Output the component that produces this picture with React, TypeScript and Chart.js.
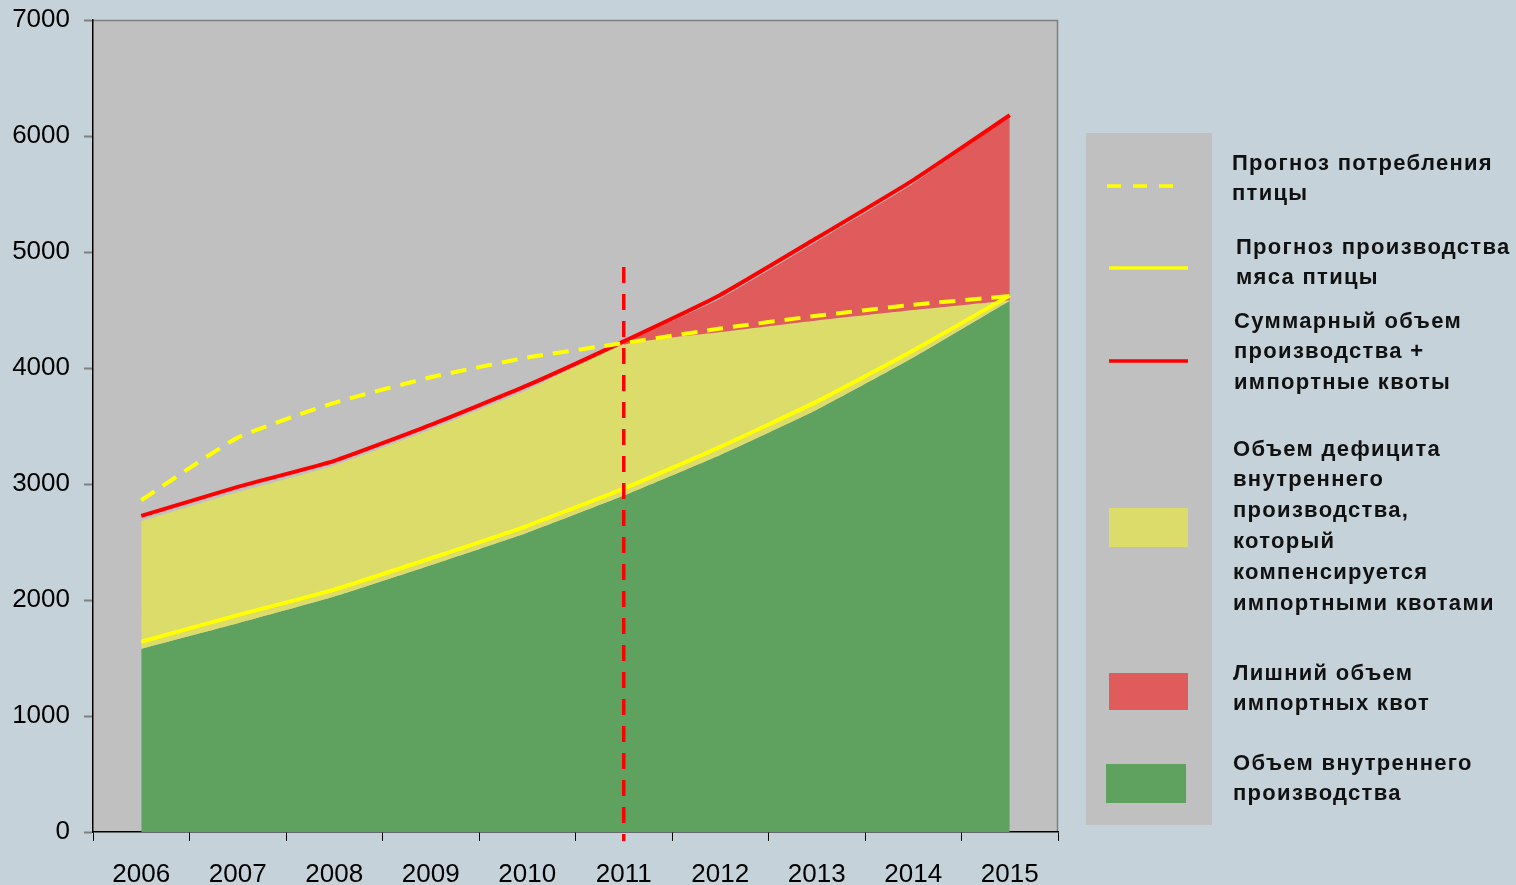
import React, { useEffect, useRef } from "react";
import { Chart, registerables } from "chart.js";

Chart.register(...registerables);

const years = ["2006", "2007", "2008", "2009", "2010", "2011", "2012", "2013", "2014", "2015"];
const consumptionForecast = [2860, 3400, 3700, 3920, 4090, 4215, 4340, 4450, 4545, 4620];
const productionForecast = [1640, 1870, 2090, 2360, 2640, 2960, 3320, 3710, 4150, 4625];
const totalWithQuotas = [2725, 2975, 3200, 3510, 3850, 4230, 4630, 5120, 5620, 6180];
const domesticVolume = [1580, 1800, 2030, 2300, 2580, 2900, 3250, 3640, 4090, 4580];
const deficitTop = [2680, 2930, 3160, 3470, 3810, 4200, 4310, 4410, 4500, 4585];
const excessTop = [null, null, null, null, null, 4215, 4600, 5090, 5590, 6170];
const forecastStartYear = "2011";
const forecastMarkerTop = 4870;
const yTicks = [0, 1000, 2000, 3000, 4000, 5000, 6000, 7000];

const legendItems = [
  { kind: "dash", lines: ["Прогноз потребления", "птицы"] },
  { kind: "yline", lines: ["Прогноз производства", "мяса птицы"] },
  { kind: "rline", lines: ["Суммарный объем", "производства +", "импортные квоты"] },
  {
    kind: "ybox",
    lines: ["Объем дефицита", "внутреннего", "производства,", "который", "компенсируется", "импортными квотами"],
  },
  { kind: "rbox", lines: ["Лишний объем", "импортных квот"] },
  { kind: "gbox", lines: ["Объем внутреннего", "производства"] },
];

const GREEN = "#5fa15f";
const YELLOW_AREA = "#dcdc6a";
const RED_AREA = "#e05c5c";
const PLOT_BG = "#c0c0c0";
const PAGE_BG = "#c6d2d9";

export default function App() {
  const ref = useRef<HTMLCanvasElement | null>(null);

  useEffect(() => {
    if (!ref.current) return;
    const plotBg = {
      id: "plotBg",
      beforeDraw(chart: any) {
        const { ctx, chartArea } = chart;
        ctx.save();
        ctx.fillStyle = PLOT_BG;
        ctx.fillRect(chartArea.left, chartArea.top, chartArea.right - chartArea.left, chartArea.bottom - chartArea.top);
        ctx.strokeStyle = "#808080";
        ctx.lineWidth = 1.5;
        ctx.beginPath();
        ctx.moveTo(chartArea.left, chartArea.top + 0.5);
        ctx.lineTo(chartArea.right - 0.5, chartArea.top + 0.5);
        ctx.lineTo(chartArea.right - 0.5, chartArea.bottom);
        ctx.stroke();
        ctx.restore();
      },
    };
    const forecastMarker = {
      id: "forecastMarker",
      afterDraw(chart: any) {
        const { ctx, chartArea } = chart;
        const xs = chart.scales.x;
        const ys = chart.scales.y;
        const x = xs.getPixelForValue(years.indexOf(forecastStartYear));
        ctx.save();
        ctx.strokeStyle = "#ff0000";
        ctx.lineWidth = 3.5;
        ctx.setLineDash([16, 11]);
        ctx.beginPath();
        ctx.moveTo(x, ys.getPixelForValue(forecastMarkerTop));
        ctx.lineTo(x, chartArea.bottom + 9);
        ctx.stroke();
        ctx.restore();
      },
    };
    const base = { pointRadius: 0, pointHoverRadius: 0, tension: 0.15 };
    const chart = new Chart(ref.current, {
      type: "line",
      data: {
        labels: years,
        datasets: [
          { ...base, label: "Объем внутреннего производства", data: domesticVolume, fill: "origin", backgroundColor: GREEN, borderWidth: 0, borderColor: GREEN, order: 10 },
          { ...base, label: "Объем дефицита", data: deficitTop, fill: 0, backgroundColor: YELLOW_AREA, borderWidth: 0, borderColor: YELLOW_AREA, order: 9 },
          { ...base, label: "Лишний объем импортных квот", data: excessTop, fill: 1, backgroundColor: RED_AREA, borderWidth: 0, borderColor: RED_AREA, order: 8, spanGaps: false },
          { ...base, label: "Суммарный объем", data: totalWithQuotas, fill: false, borderColor: "#ff0000", borderWidth: 4, order: 3 },
          { ...base, label: "Прогноз производства", data: productionForecast, fill: false, borderColor: "#ffff00", borderWidth: 4, order: 2 },
          { ...base, label: "Прогноз потребления", data: consumptionForecast, fill: false, borderColor: "#ffff00", borderWidth: 4, borderDash: [16, 10], order: 1 },
        ],
      } as any,
      plugins: [plotBg, forecastMarker],
      options: {
        responsive: false,
        animation: false,
        events: [],
        layout: { padding: { top: 20, right: 17, left: 0, bottom: 0 } },
        plugins: { legend: { display: false }, tooltip: { enabled: false } },
        scales: {
          x: {
            offset: true,
            afterFit: (s: any) => {
              s.height = 53;
              s.paddingLeft = 0;
              s.paddingRight = 0;
            },
            grid: { offset: true, drawOnChartArea: false, tickLength: 9, color: "#000", tickColor: "#000" },
            border: { color: "#000", width: 1.5 },
            ticks: { color: "#000", font: { family: "'Liberation Sans', Arial", size: 26 }, padding: 18, maxRotation: 0 },
          },
          y: {
            min: 0,
            max: 7000,
            afterFit: (s: any) => {
              s.width = 93;
              s.paddingTop = 0;
              s.paddingBottom = 0;
            },
            afterBuildTicks: (s: any) => {
              s.ticks = yTicks.map((v) => ({ value: v }));
            },
            grid: { drawOnChartArea: false, tickLength: 9, tickColor: "#808080", tickWidth: 2 },
            border: { color: "#000", width: 1.5 },
            ticks: {
              color: "#000",
              font: { family: "'Liberation Sans', Arial", size: 26 },
              padding: 14,
              callback: (v: any) => String(v),
            },
          },
        },
      } as any,
    });
    return () => chart.destroy();
  }, []);

  const lefts = [1232, 1236, 1234, 1233, 1233, 1233];
  const centers = [163, 247, 321, 449, 673, 763];
  const LH = 30.8;

  return (
    <div style={{ position: "fixed", left: 0, top: 0, width: 1516, height: 885, background: PAGE_BG, overflow: "hidden" }}>
      <canvas ref={ref} width={1075} height={885} style={{ position: "absolute", left: 0, top: 0 }} />
      <div style={{ position: "absolute", left: 1086, top: 133, width: 126, height: 692, background: PLOT_BG }} />
      <svg width={1516} height={885} style={{ position: "absolute", left: 0, top: 0 }}>
        <line x1={1107} y1={186} x2={1176} y2={186} stroke="#ffff00" strokeWidth={3.5} strokeDasharray="14 12" />
        <line x1={1109} y1={268} x2={1188} y2={268} stroke="#ffff00" strokeWidth={3.5} />
        <line x1={1109} y1={361} x2={1188} y2={361} stroke="#ff0000" strokeWidth={3.5} />
        <rect x={1109} y={508} width={79} height={39} fill={YELLOW_AREA} />
        <rect x={1109} y={673} width={79} height={37} fill={RED_AREA} />
        <rect x={1106} y={764} width={80} height={39} fill={GREEN} />
      </svg>
      {legendItems.map((it, i) => (
        <div
          key={i}
          style={{
            position: "absolute",
            left: lefts[i],
            top: centers[i] - LH / 2,
            fontFamily: "'Liberation Sans', Arial, sans-serif",
            fontWeight: "bold",
            fontSize: 22,
            letterSpacing: 1.3,
            lineHeight: LH + "px",
            color: "#111",
            whiteSpace: "nowrap",
          }}
        >
          {it.lines.map((l, j) => (
            <div key={j}>{l}</div>
          ))}
        </div>
      ))}
    </div>
  );
}
